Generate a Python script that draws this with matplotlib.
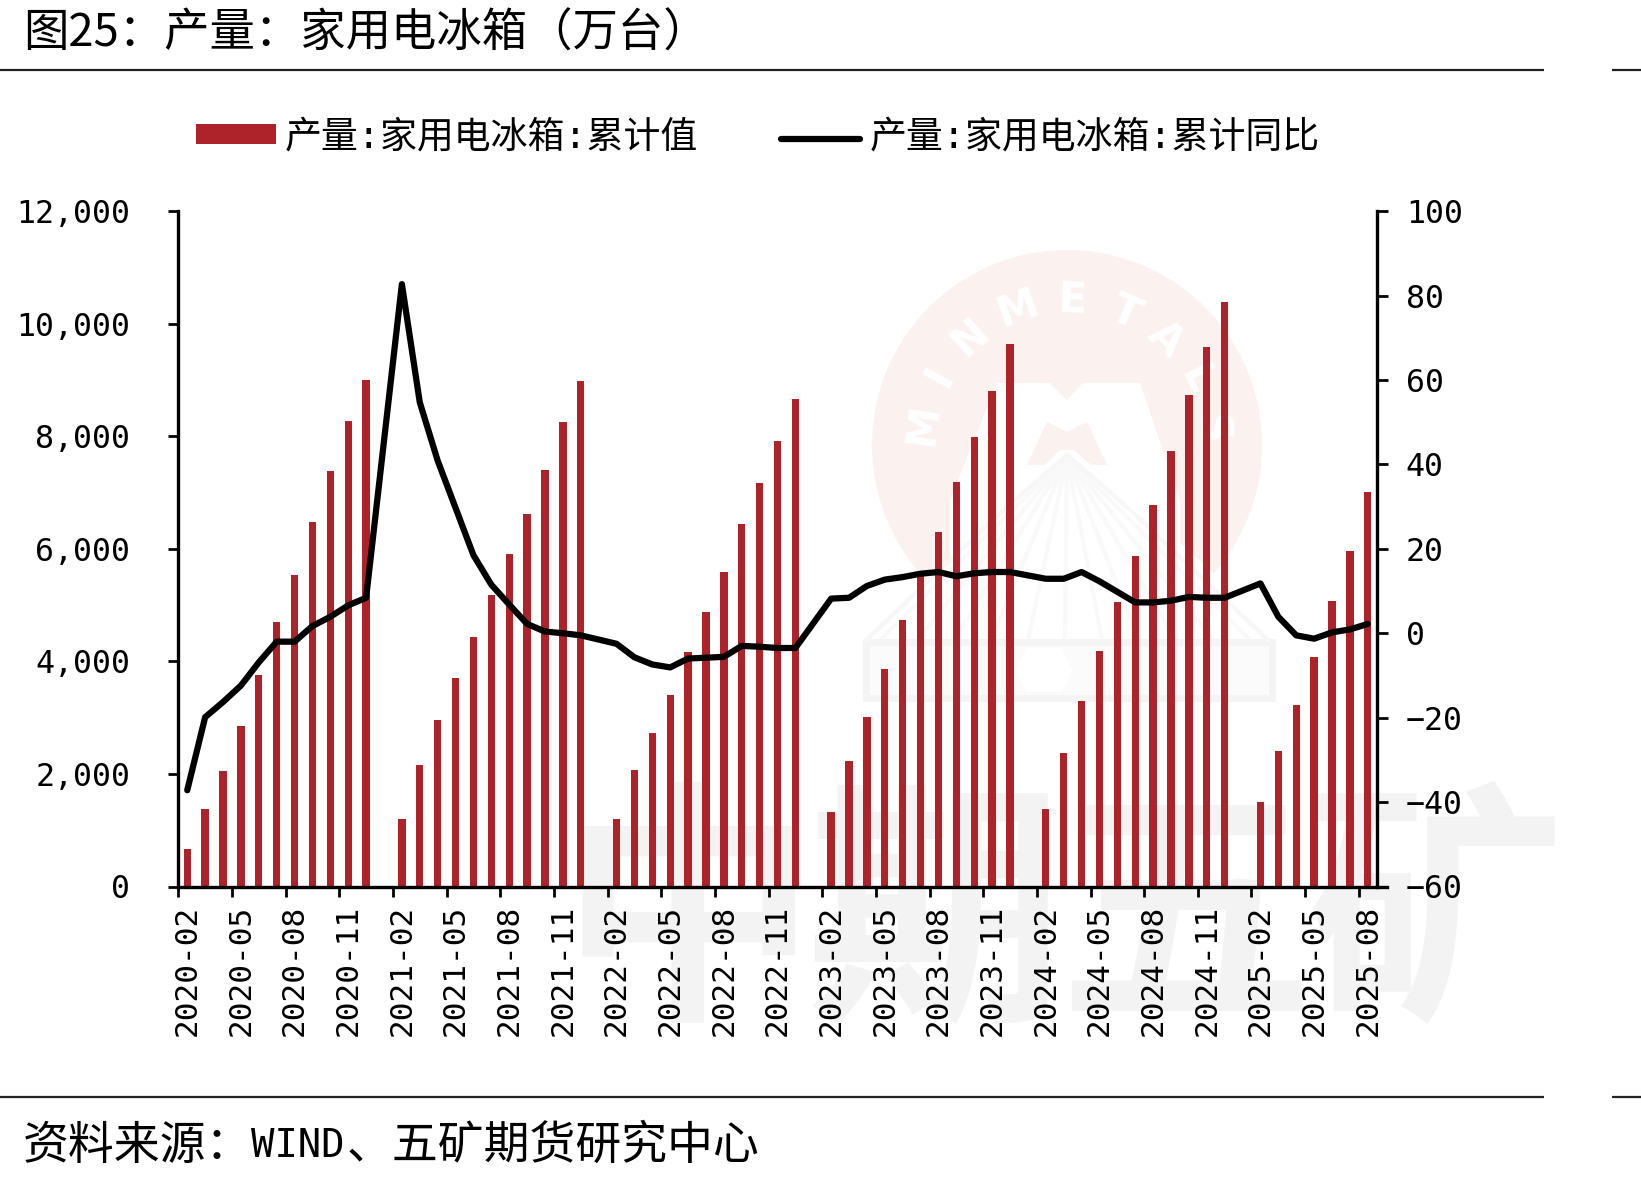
import numpy as np
import matplotlib
matplotlib.use('Agg')
import matplotlib.pyplot as plt
from matplotlib.patches import Circle, Polygon, Rectangle

W, H = 1641, 1178
CJK = ['Noto Sans CJK SC', 'DejaVu Sans']
MONO = ['DejaVu Sans Mono', 'Noto Sans CJK SC']
RED = '#AE2229'

years = [2020, 2021, 2022, 2023, 2024, 2025]
months = ['{}-{:02d}'.format(y, m) for y in years for m in range(1, 13)]
months = months[1:months.index('2025-08') + 1]

nan = float('nan')
# cumulative output, no January print in any year
output = [
    669, 1379, 2056, 2847, 3761, 4691, 5539, 6477, 7383, 8264, 9006,
    nan, 1207, 2162, 2953, 3712, 4438, 5180, 5915, 6616, 7407, 8256, 8990,
    nan, 1199, 2072, 2725, 3402, 4169, 4878, 5588, 6437, 7163, 7913, 8664,
    nan, 1322, 2227, 3010, 3859, 4740, 5523, 6298, 7179, 7995, 8811, 9635,
    nan, 1379, 2366, 3288, 4177, 5058, 5866, 6779, 7742, 8729, 9586, 10393,
    nan, 1509, 2415, 3222, 4071, 5066, 5964, 7016,
]
yoy = [
    -37.2, -19.9, -16.3, -12.4, -6.9, -2.0, -2.0, 1.7, 3.9, 6.6, 8.4,
    nan, 82.7, 54.7, 40.9, 29.7, 18.5, 11.5, 6.8, 2.2, 0.4, 0.0, -0.5,
    nan, -2.5, -5.7, -7.4, -8.1, -6.0, -5.8, -5.6, -3.0, -3.2, -3.5, -3.5,
    nan, 8.2, 8.4, 11.2, 12.7, 13.3, 14.1, 14.5, 13.5, 14.2, 14.5, 14.5,
    nan, 12.9, 12.9, 14.5, 12.3, 9.8, 7.3, 7.3, 7.7, 8.6, 8.4, 8.4,
    nan, 11.8, 3.9, -0.5, -1.3, 0.2, 0.9, 2.2,
]
left_ticks = [0, 2000, 4000, 6000, 8000, 10000, 12000]
right_ticks = [-60, -40, -20, 0, 20, 40, 60, 80, 100]

fig = plt.figure(figsize=(W / 100, H / 100), dpi=100, facecolor='white')

# backdrop in pixel coordinates: company logo and big grey wordmark
bg = fig.add_axes([0, 0, 1, 1], zorder=0)
bg.set_xlim(0, W)
bg.set_ylim(H, 0)
bg.axis('off')

for ch, x in zip('中期五矿', [688, 935, 1186, 1435]):
    bg.text(x, 925, ch, fontsize=185, family=CJK, weight='bold',
            color='#F3F3F3', ha='center', va='center')

cx, cy, r = 1067, 445, 195
bg.add_patch(Circle((cx, cy), r, fc='#FBF1EF', ec='none'))
letters = 'MINMETALS'
angles = [172, 152, 132, 110, 88, 66, 47, 27, 6]
for ch, a in zip(letters, angles):
    t = np.radians(a)
    bg.text(cx + 145 * np.cos(t), cy - 145 * np.sin(t), ch, fontsize=30,
            weight='bold', color='white', ha='center', va='center',
            rotation=a - 90, rotation_mode='anchor')
bg.add_patch(Polygon([(997, 383), (1050, 383), (1067, 400), (1083, 383),
                      (1140, 383), (1180, 500), (1180, 575), (950, 575),
                      (950, 500)], fc='white', ec='none'))
bg.add_patch(Polygon([(1027, 465), (1047, 422), (1067, 432), (1087, 422),
                      (1107, 465)], fc='#FBF1EF', ec='none'))
bg.add_patch(Polygon([(1060, 450), (1074, 450), (1290, 640), (1290, 700),
                      (865, 700), (865, 640)], fc='white', ec='none'))
for x_end in np.linspace(880, 1250, 11):
    bg.plot([1067, x_end], [457, 640], color='#F9F9F9', lw=3, zorder=1.5)
bg.plot([866, 1007, 1067], [640, 507, 455], color='#F7F7F7', lw=3)
bg.plot([1268, 1127, 1067], [640, 507, 455], color='#F7F7F7', lw=3)
bg.add_patch(Rectangle((866, 642), 406, 56, fc='#FBFBFB', ec='#F4F4F4', lw=5,
                       zorder=1.6))
bg.add_patch(Polygon([(1026, 648), (1062, 648), (1072, 670), (1062, 692),
                      (1026, 692), (1016, 670)], fc='white', ec='none',
                     zorder=1.7))

ax = fig.add_axes([178.3 / W, 1 - 886.5 / H, (1376.7 - 178.3) / W,
                   (886.5 - 211.1) / H], zorder=1)
ax.patch.set_visible(False)
xs = np.arange(len(months))
ax.bar(xs, output, width=0.41, color=RED, label='产量:家用电冰箱:累计值')
ax.set_xlim(-0.5, len(months) - 0.5)
ax.set_ylim(0, 12000)

ax2 = ax.twinx()
ax2.set_zorder(2)
ax2.patch.set_visible(False)
yoy_arr = np.array(yoy)
keep = ~np.isnan(yoy_arr)
ax2.plot(xs[keep], yoy_arr[keep], color='black', lw=4.5, solid_capstyle='round',
         solid_joinstyle='round', label='产量:家用电冰箱:累计同比')
ax2.set_ylim(-60, 100)

for a in (ax, ax2):
    a.spines['top'].set_visible(False)
    for s in a.spines.values():
        s.set_linewidth(2.4)
ax.spines['right'].set_visible(False)
ax2.spines['left'].set_visible(False)
ax2.spines['bottom'].set_visible(False)
ax.spines['bottom'].set_bounds(-0.5, len(months) - 0.5 + 0.6)

ax.set_yticks(left_ticks)
ax.set_yticklabels(['{:,}'.format(v) for v in left_ticks], family=MONO,
                   fontsize=22.8)
ax.tick_params(axis='y', length=7.5, width=2, pad=27)
ax2.set_yticks(right_ticks)
ax2.set_yticklabels([str(v).replace('-', '\u2212') for v in right_ticks],
                    family=MONO, fontsize=22.8, ha='left')
ax2.tick_params(axis='y', length=8, width=2, pad=13)

# ticks sit between bars every third month, labels sit under the bar
ax.set_xticks(xs[::3] - 0.5)
ax.set_xticklabels([])
ax.tick_params(axis='x', which='major', length=7.5, width=2)
ax.set_xticks(xs[::3], minor=True)
ax.set_xticklabels(months[::3], minor=True, rotation=90, family=MONO,
                   fontsize=22.4)
ax.tick_params(axis='x', which='minor', length=0, pad=13)

handles = ax.get_legend_handles_labels()[0] + ax2.get_legend_handles_labels()[0]
labels = ax.get_legend_handles_labels()[1] + ax2.get_legend_handles_labels()[1]
leg = fig.legend(handles, labels, loc='center left', ncol=2, frameon=False,
                 bbox_to_anchor=(196 / W, 1 - 137 / H), borderaxespad=0,
                 borderpad=0, handlelength=2.16, handleheight=0.46,
                 handletextpad=0.24, columnspacing=2.24,
                 prop={'family': MONO, 'size': 26.6})
# bring the line key level with the bar key
line_key = leg.legend_handles[1]
line_key.set_ydata(np.asarray(line_key.get_ydata()) - 2.5)
line_key.set_linewidth(4.5)

fig.text(23 / W, 1 - 34 / H, '图25：产量：家用电冰箱（万台）', family=CJK,
         fontsize=32.7, va='center')

# source line is set in three runs so the latin part stays narrow
foot_y = 1 - 1146 / H
fig.text(23 / W, foot_y, '资料来源：', family=CJK, fontsize=33, va='center')
fig.text(251 / W, foot_y, 'WIND', family=MONO, fontsize=28, va='center')
fig.text(347 / W, foot_y, '、五矿期货研究中心', family=CJK, fontsize=33, va='center')

for y in (69.5, 1096.5):
    bg.plot([0, 1544], [y, y], color='#222222', lw=1.6, solid_capstyle='butt')
    bg.plot([1612, W], [y, y], color='#222222', lw=1.6, solid_capstyle='butt')

fig.savefig('out.png', dpi=100)
